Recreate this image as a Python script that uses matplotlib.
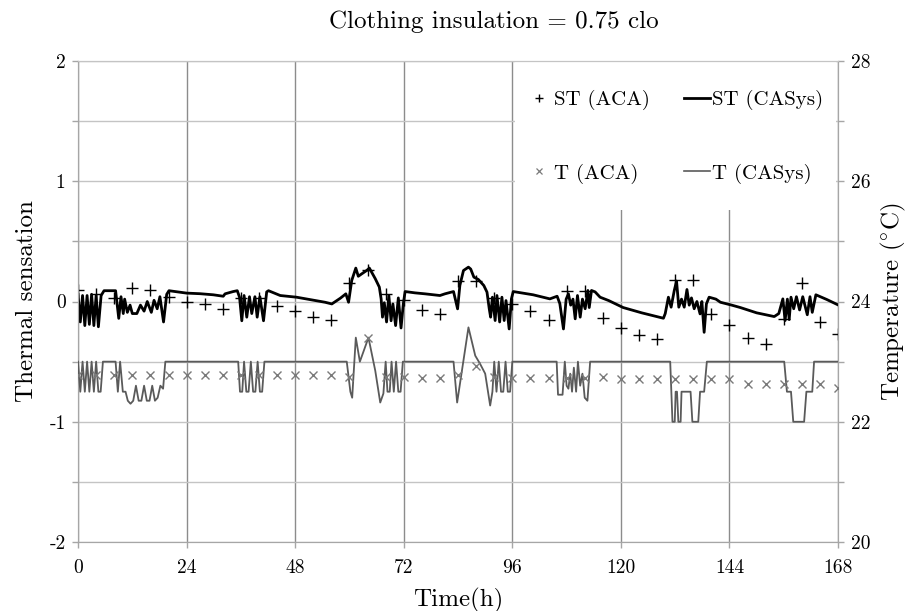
import matplotlib
matplotlib.use('Agg')
import matplotlib.pyplot as plt
from matplotlib.patches import Rectangle
from matplotlib.lines import Line2D

plt.rcParams['font.family'] = ['cmr10', 'DejaVu Serif']
plt.rcParams['mathtext.fontset'] = 'cm'
plt.rcParams['axes.unicode_minus'] = False

# ---------------- data ----------------
x_ticks = [0, 24, 48, 72, 96, 120, 144, 168]
x_tick_labels = ['0', '24', '48', '72', '96', '120', '144', '168']
ts_ticks = [-2, -1, 0, 1, 2]
ts_tick_labels = ['-2', '-1', '0', '1', '2']
temp_ticks = [20, 22, 24, 26, 28]
temp_tick_labels = ['20', '22', '24', '26', '28']

# ACA samples every 4 hours
hours_aca = [0, 4, 8, 12, 16, 20, 24, 28, 32, 36, 40, 44,
             48, 52, 56, 60, 64, 68, 72, 76, 80, 84, 88, 92,
             96, 100, 104, 108, 112, 116, 120, 124, 128, 132, 136, 140,
             144, 148, 152, 156, 160, 164, 168]
st_aca = [0.10, 0.06, 0.03, 0.11, 0.10, 0.04, 0.00, -0.02, -0.06, 0.03, 0.03, -0.04,
          -0.08, -0.125, -0.15, 0.155, 0.26, 0.06, 0.01, -0.07, -0.10, 0.17, 0.17, 0.03,
          -0.02, -0.08, -0.15, 0.09, 0.09, -0.14, -0.22, -0.275, -0.31, 0.175, 0.18, -0.10,
          -0.195, -0.30, -0.35, -0.145, 0.155, -0.17, -0.27]
t_aca = [22.77, 22.77, 22.77, 22.77, 22.77, 22.77, 22.77, 22.77, 22.77, 22.77, 22.77, 22.77,
         22.77, 22.77, 22.77, 22.75, 23.40, 22.75, 22.75, 22.72, 22.72, 22.77, 22.92, 22.75,
         22.72, 22.72, 22.72, 22.72, 22.72, 22.75, 22.71, 22.71, 22.71, 22.71, 22.71, 22.71,
         22.71, 22.62, 22.62, 22.62, 22.62, 22.62, 22.57]

# CASys simulated thermal sensation
st_cas_hours = [0, 0.5, 1, 1.5, 2, 2.5, 3, 3.5, 4, 4.5, 5.1, 5.75, 8.3, 9.0, 9.5, 10.0, 10.3,
                10.9, 11.5, 12.0, 13.0, 13.8, 14.6, 15.3, 16.2, 16.8, 17.5, 18.1, 18.9, 19.6,
                20.1, 24.0, 27.0, 29.9, 32.1, 32.5, 34.3, 35.2, 35.7, 36.2, 36.7, 37.3, 37.9,
                38.4, 39.1, 39.6, 40.2, 41.0, 41.7, 42.1, 44.7, 48.3, 54.6, 56.1, 58.0, 59.2,
                59.8, 60.5, 61.4, 61.95, 62.7, 63.8, 64.4, 64.9, 65.7, 66.6, 67.0, 67.3, 67.7,
                68.2, 68.7, 69.2, 69.6, 70.2, 70.8, 71.4, 71.9, 72.3, 74.5, 76.7, 80.0, 81.1,
                83.0, 83.9, 84.4, 85.2, 86.3, 86.8, 87.5, 88.5, 89.7, 90.4, 90.9, 91.2, 91.6,
                92.2, 92.6, 93.2, 93.7, 94.2, 94.6, 95.3, 95.8, 96.2, 100.6, 104.3, 105.9,
                106.5, 107.3, 107.9, 108.4, 108.9, 109.4, 109.9, 110.4, 111.0, 111.5, 112.1,
                112.7, 113.0, 113.5, 114.3, 115.4, 117.3, 120.5, 124.6, 129.4, 129.8, 130.5,
                131.1, 131.8, 132.3, 132.8, 133.4, 134.0, 134.6, 135.1, 135.6, 136.2, 136.8,
                137.5, 137.9, 138.4, 138.9, 139.5, 141.0, 142.0, 144.5, 146.4, 150.0, 153.9,
                154.9, 155.8, 156.3, 156.8, 157.2, 157.6, 158.2, 158.8, 159.5, 160.2, 161.2,
                161.8, 162.3, 163.1, 165.5, 168.0]
st_cas = [0.06, -0.17, 0.05, -0.20, 0.05, -0.19, 0.06, -0.20, 0.05, -0.21, 0.05, 0.09, 0.09,
          -0.14, 0.04, -0.10, 0.02, -0.09, -0.03, -0.10, -0.10, -0.03, -0.08, 0.00, -0.09,
          0.01, -0.06, 0.04, -0.17, 0.06, 0.09, 0.07, 0.065, 0.056, 0.044, 0.064, 0.083, 0.09,
          0.036, -0.16, 0.05, -0.13, 0.04, -0.10, 0.04, -0.13, 0.04, -0.16, 0.08, 0.09, 0.05,
          0.036, -0.006, -0.02, 0.028, 0.064, -0.006, 0.175, 0.278, 0.21, 0.23, 0.258, 0.278,
          0.244, 0.19, 0.12, 0.022, -0.13, -0.01, -0.17, 0.05, -0.16, -0.02, -0.20, 0.03,
          -0.22, -0.02, 0.083, 0.072, 0.064, 0.05, 0.064, 0.083, -0.061, 0.133, 0.258, 0.286,
          0.27, 0.203, 0.183, 0.133, 0.078, -0.061, -0.13, 0.036, -0.158, 0.05, -0.17, 0.036,
          -0.158, 0.008, -0.228, 0.022, 0.083, 0.056, 0.022, 0.044, -0.017, -0.228, 0.02,
          0.064, -0.03, 0.02, -0.144, 0.05, -0.13, 0.02, -0.06, 0.092, -0.05, 0.092, 0.08,
          0.036, 0.008, -0.05, -0.094, -0.139, -0.10, 0.036, -0.047, 0.092, 0.17, -0.047,
          0.02, -0.047, 0.10, -0.03, 0.03, -0.06, 0.0, -0.103, 0.0, -0.256, -0.02, 0.036,
          0.02, -0.006, -0.03, -0.05, -0.094, -0.125, -0.10, 0.022, -0.158, 0.02, -0.15,
          0.036, -0.06, 0.04, -0.07, 0.04, -0.11, 0.04, -0.09, 0.056, 0.017, -0.028]

# CASys simulated room temperature (degC)
t_cas_hours = [0, 0.5, 1.0, 1.5, 2.0, 2.5, 3.0, 3.5, 4.0, 4.5, 5.0, 5.5, 8.3, 8.8, 9.3, 9.9,
               10.5, 11.0, 11.6, 12.2, 12.8, 13.4, 14.0, 14.6, 15.2, 15.8, 16.4, 17.0, 17.6,
               18.2, 18.8, 19.3, 35.4, 35.8, 36.3, 36.7, 37.2, 37.7, 38.2, 38.7, 39.2, 39.7,
               40.2, 40.7, 41.2, 59.4, 60.2, 60.6, 61.4, 62.3, 64.2, 65.7, 66.8, 67.5, 68.0,
               68.4, 68.9, 69.3, 69.8, 70.3, 70.8, 71.3, 71.8, 83.0, 83.8, 86.3, 87.8, 88.9,
               90.0, 91.1, 91.6, 92.0, 92.5, 93.0, 93.5, 94.0, 94.5, 95.0, 95.5, 96.0, 105.8,
               106.1, 107.1, 107.6, 108.0, 108.4, 108.8, 109.2, 109.6, 110.1, 110.5, 111.0,
               111.5, 112.0, 112.6, 113.2, 130.9, 131.4, 131.9, 132.1, 132.4, 132.7, 133.2,
               133.4, 135.4, 135.8, 137.1, 137.5, 138.4, 139.0, 156.1, 156.7, 157.6, 158.1,
               160.5, 161.0, 162.3, 162.7, 168.0]
t_cas = [23.0, 22.5, 23.0, 22.5, 23.0, 22.5, 23.0, 22.5, 23.0, 22.5, 22.5, 23.0, 23.0, 22.5,
         23.0, 22.5, 22.5, 22.35, 22.3, 22.35, 22.6, 22.35, 22.35, 22.6, 22.35, 22.35, 22.6,
         22.35, 22.4, 22.6, 22.55, 23.0, 23.0, 22.5, 22.5, 23.0, 22.5, 22.5, 23.0, 22.5, 22.5,
         23.0, 22.5, 22.5, 23.0, 23.0, 22.5, 22.4, 23.4, 23.0, 23.4, 22.85, 22.32, 22.47, 23.0,
         22.5, 22.5, 23.0, 22.5, 23.0, 22.5, 22.5, 23.0, 23.0, 22.32, 23.57, 23.1, 22.96,
         22.8, 22.27, 22.5, 23.0, 22.5, 23.0, 22.5, 22.5, 23.0, 22.5, 22.5, 23.0, 23.0,
         22.45, 22.45, 23.0, 22.6, 22.55, 22.8, 22.5, 22.9, 22.5, 23.0, 22.6, 22.8, 22.4,
         22.35, 23.0, 23.0, 22.0, 22.0, 22.5, 22.5, 22.0, 22.0, 22.5, 22.5, 22.0, 22.0, 22.5,
         22.5, 23.0, 23.0, 22.5, 22.5, 22.0, 22.0, 22.5, 22.5, 23.0, 23.0]

# ---------------- figure ----------------
fig = plt.figure(figsize=(9.17, 6.11), dpi=100)
ax = fig.add_axes([0.0851, 0.1129, 0.8288, 0.7872])
ax2 = ax.twinx()

ax.set_xlim(0, 168)
ax.set_ylim(-2, 2)
ax2.set_ylim(20, 28)

grid_h = '#c4c4c4'
grid_v = '#8c8c8c'
spine_c = '#a6a6a6'
tick_fs = 14

ax.set_xticks(x_ticks)
ax.set_xticklabels(x_tick_labels, fontsize=tick_fs)
ax.set_yticks(ts_ticks)
ax.set_yticklabels(ts_tick_labels, fontsize=tick_fs)
ax.set_yticks([-1.5, -0.5, 0.5, 1.5], minor=True)
ax.grid(axis='y', which='both', color=grid_h, lw=1.0)
ax.grid(axis='x', which='major', color=grid_v, lw=1.0)

ax2.set_yticks(temp_ticks)
ax2.set_yticklabels(temp_tick_labels, fontsize=tick_fs)
ax2.set_yticks([21, 23, 25, 27], minor=True)

for a in (ax, ax2):
    a.tick_params(which='both', direction='out', length=4, color=spine_c, width=1)
    for s in ('left', 'right', 'bottom'):
        a.spines[s].set_color(spine_c)
    a.spines['top'].set_color(grid_h)
ax.tick_params(axis='x', pad=8)
ax.tick_params(axis='y', pad=5)
ax2.tick_params(axis='y', pad=5)

# white legend backdrop covering the gridlines
ax.add_patch(Rectangle((0.5745, 0.69), 0.423, 0.307, transform=ax.transAxes,
                       facecolor='white', edgecolor='none', zorder=1.7))

ax.plot(st_cas_hours, st_cas, color='black', lw=2.0, zorder=3)
ax.plot(hours_aca, st_aca, ls='none', marker='+', ms=8, mew=1.0, color='black', zorder=4)
ax2.plot(t_cas_hours, t_cas, color='#5a5a5a', lw=1.3, zorder=3)
ax2.plot(hours_aca, t_aca, ls='none', marker='x', ms=6, mew=1.0, color='#7a7a7a', zorder=4)

ax.set_ylabel('Thermal sensation', fontsize=18, labelpad=8)
ax2.set_ylabel(r'Temperature ($^{\circ}$C)', fontsize=18, labelpad=6)
ax.set_xlabel('Time(h)', fontsize=18, labelpad=8)
fig.text(0.539, 0.965, 'Clothing insulation = 0.75 clo', ha='center', va='center', fontsize=18)

handles = [
    Line2D([], [], ls='none', marker='+', ms=6, mew=1.0, color='black'),
    Line2D([], [], ls='none', marker='x', ms=4.5, mew=0.9, color='#7a7a7a'),
    Line2D([], [], color='black', lw=2.0),
    Line2D([], [], color='#5a5a5a', lw=1.2),
]
labels = ['ST (ACA)', 'T (ACA)', 'ST (CASys)', 'T (CASys)']
ax2.legend(handles, labels, ncol=2, loc='center', bbox_to_anchor=(0.785, 0.842),
           frameon=False, fontsize=15, handlelength=1.25, handletextpad=0.12,
           labelspacing=2.55, columnspacing=1.6)

fig.savefig('out.png', dpi=100)
